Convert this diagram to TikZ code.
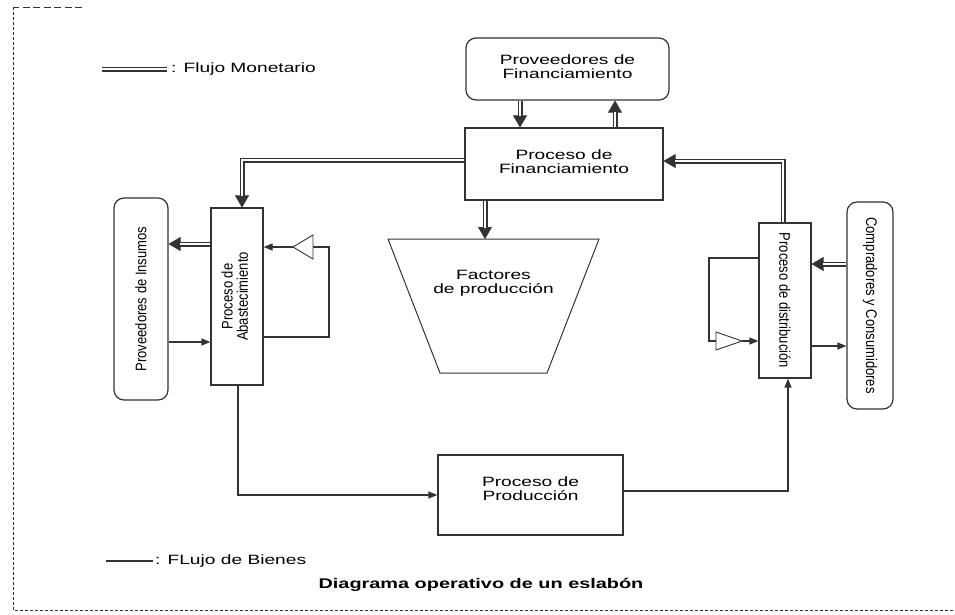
\documentclass[tikz,border=0pt]{standalone}
\usepackage{fontspec}
\setmainfont{Liberation Sans}
\usetikzlibrary{arrows.meta}

% horizontally widened lettering used for the horizontal labels
\newcommand{\widetext}[1]{\scalebox{1.42}[1]{#1}}
\newcommand{\twolines}[2]{\widetext{\begin{tabular}{@{}c@{}}#1\\#2\end{tabular}}}
% taller lettering for the upright (rotated) labels
\newcommand{\talltext}[1]{\scalebox{1}[1.18]{#1}}

\definecolor{linec}{gray}{0.2}

\tikzset{
  boxline/.style={draw=linec, line width=1.2pt},
  box/.style={boxline, rectangle, inner sep=0pt, fill=white,
              font=\fontsize{13.5}{13.5}\selectfont},
  rbox/.style={box, rounded corners=10pt},
  vlabel/.style={inner sep=0pt, font=\fontsize{13}{14}\selectfont},
  hlabel/.style={inner sep=0pt, font=\fontsize{13.5}{13.5}\selectfont},
  goods/.style={boxline, -{Triangle[length=9pt,width=7pt]}},
  plain/.style={boxline},
  moneyline/.style={draw=linec, line width=1.5pt, double=white, double distance=2pt},
  moneytip/.style={draw=linec, line width=0.01pt, -{Triangle[length=12pt,width=14pt]}},
  amp/.style={draw=linec, line width=0.9pt, fill=white},
}
% a money flow: solid head first, then the double shaft up to the head
\newcommand{\moneyflow}[1]{%
  \draw[moneytip] #1;
  \draw[moneyline, shorten >=11.5pt] #1;}

\begin{document}
\begin{tikzpicture}[x=1pt, y=-1pt]
\useasboundingbox (0,0) rectangle (955,614);

% frame
\coordinate (fa) at (82,7);
\coordinate (fb) at (13,7);
\coordinate (fc) at (13,610);
\coordinate (fd) at (955,610);
\draw[linec, line width=1pt, dash pattern=on 7pt off 3.5pt] (fa) -- (fb);
\draw[linec, line width=1pt, dash pattern=on 3pt off 2pt] (fb) -- (fc) -- (fd);

% legend
\coordinate (lm1) at (102,69);
\coordinate (lm2) at (167,69);
\draw[moneyline] (lm1) -- (lm2);
\node[hlabel, anchor=west] (lmt) at (171,69) {\widetext{: Flujo Monetario}};
\coordinate (lg1) at (106,561);
\coordinate (lg2) at (153,561);
\draw[plain] (lg1) -- (lg2);
\node[hlabel, anchor=west] (lgt) at (155,561) {\widetext{: FLujo de Bienes}};

% title
\node[inner sep=0pt, font=\fontsize{14}{14}\selectfont\bfseries] (title) at (481,585)
  {\widetext{Diagrama operativo de un eslab\'on}};

% boxes
\node[rbox, minimum width=203pt, minimum height=62pt] (pf) at (567.5,69)
  {\twolines{Proveedores de}{Financiamiento}};
\node[box, minimum width=198pt, minimum height=72pt] (procf) at (564,164)
  {\twolines{Proceso de}{Financiamiento}};
\node[rbox, minimum width=54pt, minimum height=202pt] (pi) at (141,299) {};
\node[vlabel, rotate=90] (pit) at (pi) {\talltext{Proveedores de Insumos}};
\node[box, minimum width=52pt, minimum height=177pt] (pa) at (237,296.5) {};
\node[vlabel, rotate=90] (pat) at (pa)
  {\talltext{\begin{tabular}{@{}c@{}}Proceso de\\[-1pt]Abastecimiento\end{tabular}}};
\node[box, minimum width=52pt, minimum height=155pt] (pd) at (785,300.5) {};
\node[vlabel, rotate=-90] (pdt) at (pd) {\talltext{Proceso de distribuci\'on}};
\node[rbox, minimum width=46pt, minimum height=207pt] (cc) at (870,305.5) {};
\node[vlabel, rotate=-90] (cct) at (cc) {\talltext{Compradores y Consumidores}};
\node[box, minimum width=185pt, minimum height=80pt] (pp) at (530.5,495) {};
\node[hlabel] (ppt) at (530.5,491) {\twolines{Proceso de}{Producci\'on}};

% factors of production
\coordinate (fp1) at (388,239);
\coordinate (fp2) at (599,239);
\coordinate (fp3) at (547,373);
\coordinate (fp4) at (440,373);
\coordinate (fptop) at (485,239);
\draw[boxline, line width=1pt] (fp1) -- (fp2) -- (fp3) -- (fp4) -- cycle;
\node[hlabel] (fpt) at (493.5,284) {\twolines{Factores}{de producci\'on}};

% money flows
\moneyflow{(pf.south -| 520,0) -- (procf.north -| 520,0)}
\moneyflow{(procf.north -| 615,0) -- (pf.south -| 615,0)}
\moneyflow{(procf.west |- 0,160) -| (pa.north -| 242,0)}
\moneyflow{(procf.south -| 485,0) -- (fptop)}
\moneyflow{(pd.north -| 783,0) |- (procf.east |- 0,161)}
\moneyflow{(pa.west |- 0,244) -- (pi.east |- 0,244)}
\moneyflow{(cc.west |- 0,264) -- (pd.east |- 0,264)}

% goods flows
\draw[goods] (pi.east |- 0,342) -- (pa.west |- 0,342);
\draw[goods] (pd.east |- 0,346) -- (cc.west |- 0,346);
\draw[goods] (pa.south -| 238,0) |- (pp.west |- 0,495);
\draw[goods] (pp.east |- 0,491) -| (pd.south -| 788,0);

% supply loop with amplifier
\coordinate (tab) at (313,247);
\coordinate (taa) at (293,247);
\draw[plain] (pa.east |- 0,337) -- (329,337) -- (329,247) -- (tab);
\draw[amp] (313,235) -- (313,259) -- (taa) -- cycle;
\draw[goods] (taa) -- (pa.east |- taa);

% distribution loop with amplifier
\coordinate (tdb) at (716,341);
\coordinate (tda) at (742,341);
\draw[plain] (pd.west |- 0,258) -- (709,258) -- (709,341) -- (tdb);
\draw[amp] (716,332) -- (716,350) -- (tda) -- cycle;
\draw[goods] (tda) -- (pd.west |- tda);

\end{tikzpicture}
\end{document}
